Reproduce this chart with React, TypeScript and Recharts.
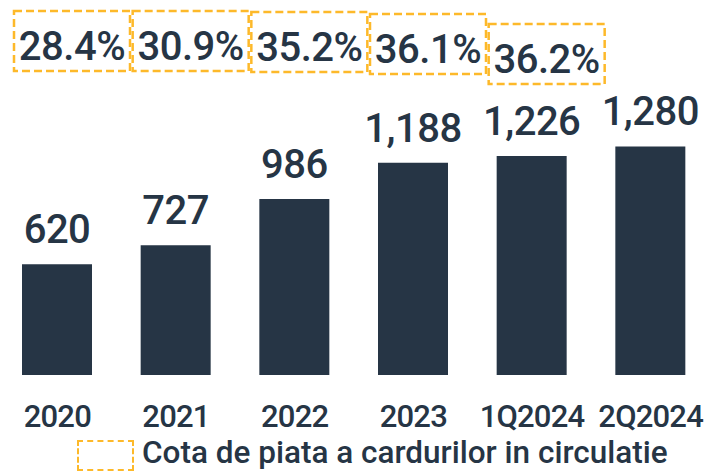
import { BarChart, Bar, XAxis, YAxis, LabelList, Legend } from "recharts";

const categories = ["2020", "2021", "2022", "2023", "1Q2024", "2Q2024"];
const cardCounts = [620, 727, 986, 1188, 1226, 1280];
const marketShare: (number | null)[] = [28.4, 30.9, 35.2, 36.1, 36.2, null];
const legendLabel = "Cota de piata a cardurilor in circulatie";

// top edge of each dashed percent box (layout only)
const pctBoxTop = [11, 11, 12, 14, 24];

const NAVY = "#263545";
const ORANGE = "#FDB92A";
const FONT = "Roboto, 'DejaVu Sans', sans-serif";

const rows = categories.map((c, i) => ({
  cat: c,
  cards: cardCounts[i],
  share: marketShare[i],
}));

function ValueLabel(props: any) {
  const { x, y, width, value } = props;
  return (
    <text
      x={x + width / 2}
      y={y - 21}
      textAnchor="middle"
      fill={NAVY}
      fontSize={40}
      fontWeight={500}
      fontFamily={FONT}
      letterSpacing={-0.5}
    >
      {value.toLocaleString("en-US")}
    </text>
  );
}

function ShareBox(props: any) {
  const { x, width, value, index } = props;
  if (value == null) return null;
  const cx = x + width / 2 + 15;
  const top = pctBoxTop[index] ?? 11;
  const w = 116;
  const h = 60;
  return (
    <g>
      <rect
        x={cx - w / 2}
        y={top}
        width={w}
        height={h}
        fill="none"
        stroke={ORANGE}
        strokeWidth={2.5}
        strokeDasharray="8 4"
      />
      <text
        x={cx}
        y={top + 49}
        textAnchor="middle"
        fill={NAVY}
        fontSize={40}
        fontWeight={500}
        fontFamily={FONT}
        letterSpacing={-0.5}
      >
        {value.toFixed(1)}%
      </text>
    </g>
  );
}

function LegendContent() {
  return (
    <div style={{ position: "relative", height: 34, fontFamily: FONT }}>
      <div
        style={{
          position: "absolute",
          left: 79,
          top: 4,
          width: 53,
          height: 27,
          border: `2.5px dashed ${ORANGE}`,
        }}
      />
      <div
        style={{
          position: "absolute",
          left: 144,
          top: 0,
          fontSize: 31.5,
          fontWeight: 500,
          color: NAVY,
          lineHeight: "34px",
          whiteSpace: "nowrap",
        }}
      >
        {legendLabel}
      </div>
    </div>
  );
}

export default function App() {
  return (
    <div style={{ position: "absolute", left: -2, top: 0, background: "#fff" }}>
      <BarChart
        width={712}
        height={472}
        data={rows}
        margin={{ top: 125, right: 0, bottom: 2, left: 0 }}
      >
        <XAxis
          dataKey="cat"
          axisLine={false}
          tickLine={false}
          tickSize={0}
          tickMargin={30}
          height={61}
          interval={0}
          tick={{
            fill: NAVY,
            fontSize: 31,
            fontWeight: 500,
            fontFamily: FONT,
            letterSpacing: -0.8,
          }}
        />
        <YAxis hide domain={[0, 1400]} />
        <Legend verticalAlign="bottom" height={34} content={<LegendContent />} />
        <Bar dataKey="cards" fill={NAVY} barSize={70} isAnimationActive={false}>
          <LabelList dataKey="cards" content={<ValueLabel />} />
          <LabelList dataKey="share" content={<ShareBox />} />
        </Bar>
      </BarChart>
    </div>
  );
}
